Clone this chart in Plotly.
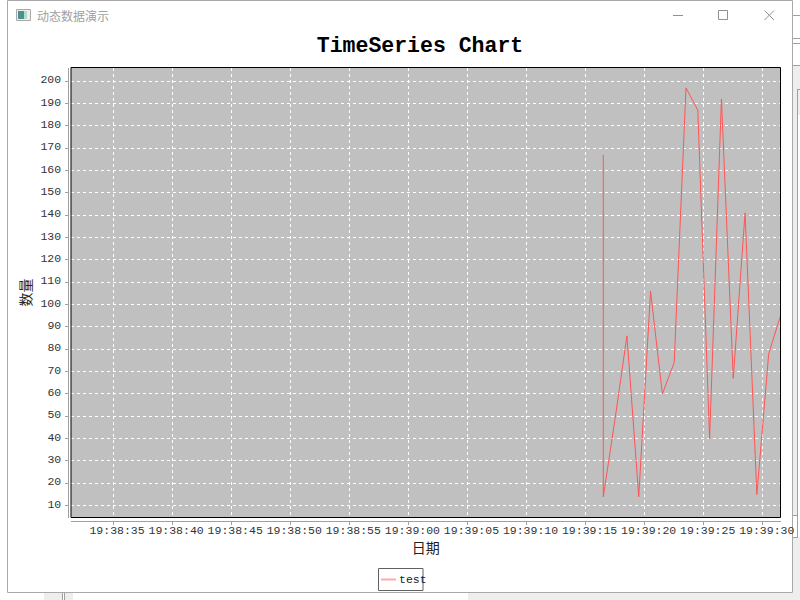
import plotly.graph_objects as go

SERIES_NAME = "test"
TITLE = "TimeSeries Chart"
WINDOW_TITLE = "动态数据演示"
X_TITLE = "日期"
Y_TITLE = "数量"
times = ["2024-01-01 19:39:%02d.5" % s for s in
         [16, 16, 17, 18, 19, 20, 21, 22, 23, 24, 25, 26, 27, 28, 29, 30, 31]]
values = [167, 14, 49, 86, 14, 106, 60, 74, 197, 187, 40, 192, 67, 141, 15, 78, 95]
x_range = ["2024-01-01 19:38:31.44", "2024-01-01 19:39:31.5"]
y_range = [4.7, 206.1]

W, H = 800, 600
L, R, T, B = 71, 780.5, 67.5, 517.5
MONO = "Liberation Mono, monospace"
CJK = "Noto Sans CJK SC, sans-serif"
TICK_FONT = dict(family=MONO, size=11.5, color="#333333")


def px(x):
    return x / W


def py(y):
    return 1 - y / H


def rect(x0, y0, x1, y1, line=None, fill=None, width=1, layer="below"):
    return dict(type="rect", xref="paper", yref="paper", x0=px(x0), x1=px(x1), y0=py(y1), y1=py(y0),
                line=dict(color=line or "rgba(0,0,0,0)", width=width if line else 0),
                fillcolor=fill or "rgba(0,0,0,0)", layer=layer)


def seg(x0, y0, x1, y1, color, width=1, layer="below"):
    return dict(type="line", xref="paper", yref="paper", x0=px(x0), x1=px(x1), y0=py(y0), y1=py(y1),
                line=dict(color=color, width=width), layer=layer)


fig = go.Figure(go.Scatter(x=times, y=values, mode="lines", name=SERIES_NAME,
                           line=dict(color="#ff5555", width=1), showlegend=False))

shapes = [
    # surroundings of the window
    rect(44, 593, 62, 600, fill="#eeeeee"),
    rect(65, 593, 73, 600, fill="#eeeeee"),
    seg(62.5, 593, 62.5, 600, "#a0a0a0"),
    seg(64.5, 593, 64.5, 600, "#a0a0a0"),
    rect(468, 593, 800, 600, fill="#eeeeee"),
    rect(793, 65, 800, 600, fill="#eeeeee"),
    seg(793, 15.5, 800, 15.5, "#a0a0a0"),
    seg(793, 38.5, 800, 38.5, "#a0a0a0"),
    seg(793, 43.5, 800, 43.5, "#a0a0a0"),
    seg(793, 65.5, 800, 65.5, "#a0a0a0"),
    rect(798, 115, 800, 515, fill="white"),
    rect(793, 515, 800, 537, fill="white"),
    seg(797.5, 89, 797.5, 537, "#a0a0a0"),
    seg(797.5, 89.5, 800, 89.5, "#a0a0a0"),
    seg(793, 515.5, 798, 515.5, "#a0a0a0"),
    seg(793, 537.5, 798, 537.5, "#a0a0a0"),
    # window
    rect(7.5, 0.5, 792.5, 592.5, line="#a9a9a9"),
    rect(16.5, 9.5, 30.5, 20.5, line="#a9a9a9", fill="#e8f0f0"),
    rect(18, 11, 24, 19, fill="#4f8f90"),
    rect(24, 11, 27, 19, fill="#b8d8c8"),
    seg(673, 15.5, 683, 15.5, "#909090"),
    rect(718.5, 10.5, 727.5, 19.5, line="#909090"),
    seg(764.5, 10.5, 774, 20, "#909090"),
    seg(764.5, 20, 774, 10.5, "#909090"),
    # plot frame
    dict(type="rect", xref="x domain", yref="y domain", x0=0, x1=1, y0=0, y1=1,
         line=dict(color="black", width=1), layer="above"),
    # legend box and its line sample
    rect(378.5, 568.5, 423, 590.5, line="#606060", fill="white"),
    seg(381, 579.5, 396, 579.5, "#ffaaaa", width=2),
]

fig.update_layout(
    width=W, height=H, margin=dict(l=0, r=0, t=0, b=0), autosize=False,
    paper_bgcolor="white", plot_bgcolor="#c0c0c0", showlegend=False,
    xaxis=dict(domain=[L / W, R / W], range=x_range, type="date", anchor="free", automargin=False,
               position=(H - 521) / H, dtick=5000, tickformat="%H:%M:%S",
               tick0="2024-01-01 19:38:35", showline=True, linecolor="#a0a0a0", linewidth=1,
               ticks="outside", ticklen=3, tickcolor="#a0a0a0", tickfont=TICK_FONT,
               ticklabelshift=4, ticklabelstandoff=-5,
               showgrid=True, gridcolor="white", griddash="dot", gridwidth=1, zeroline=False,
               title=dict(text=X_TITLE, font=dict(family=CJK, size=14, color="#222222"), standoff=5)),
    yaxis=dict(domain=[(H - B) / H, (H - T) / H], range=y_range, anchor="free", automargin=False,
               position=67.5 / W, dtick=10, tick0=0, showline=True, linecolor="#a0a0a0", linewidth=1,
               ticks="outside", ticklen=3, tickcolor="#a0a0a0", tickfont=TICK_FONT,
               ticklabelshift=-2, ticklabelstandoff=1,
               showgrid=True, gridcolor="white", griddash="dot", gridwidth=1, zeroline=False,
               title=dict(text=Y_TITLE, font=dict(family=CJK, size=14, color="#222222"), standoff=4)),
    title=dict(text=TITLE, x=420 / W, xanchor="center", y=py(44), yanchor="middle", automargin=False,
               font=dict(family=MONO, size=21.5, color="black", weight="bold")),
    shapes=shapes,
    annotations=[
        dict(text=WINDOW_TITLE, xref="paper", yref="paper", x=px(37), y=py(15.5), xanchor="left",
             yanchor="middle", showarrow=False, xshift=-2, font=dict(family=CJK, size=12, color="#a0a0a0")),
        dict(text=SERIES_NAME, xref="paper", yref="paper", x=px(399), y=py(579), xanchor="left",
             yanchor="middle", showarrow=False, xshift=-2, font=dict(family=MONO, size=11.5, color="#222222")),
    ],
)
fig.write_html("out.html", default_width=800, default_height=600,
               config={"responsive": False, "displayModeBar": False},
               post_script="document.body.style.margin='0';document.body.style.overflow='hidden';")
